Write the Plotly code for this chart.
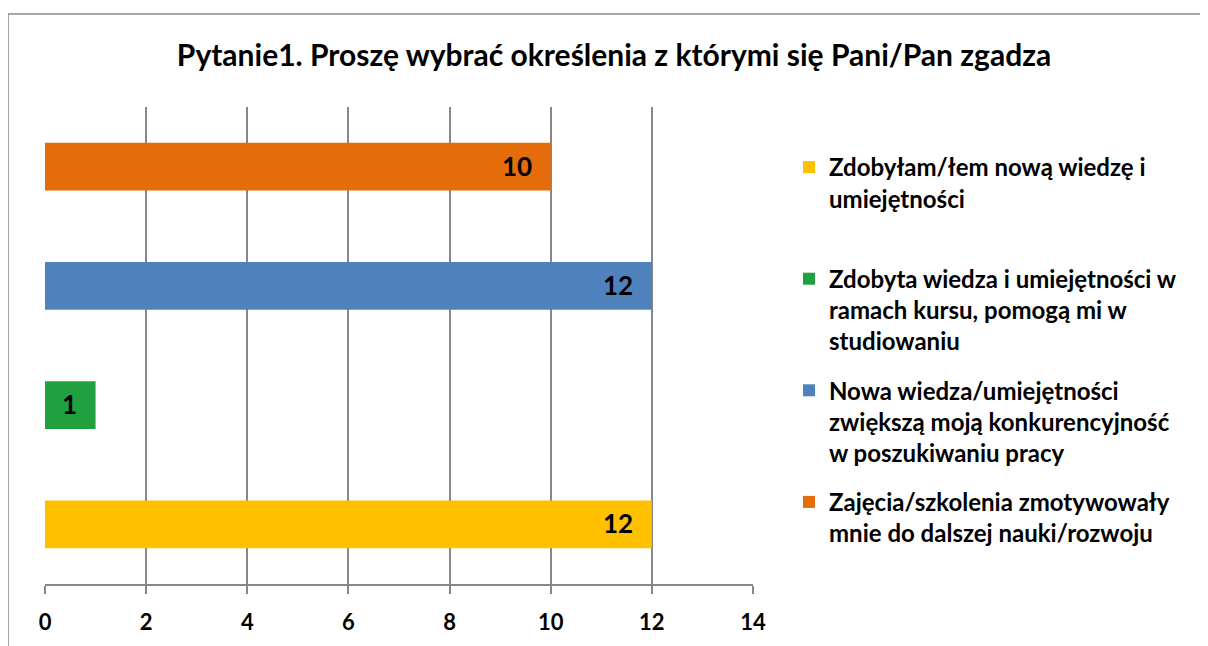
import plotly.graph_objects as go

title_text = "Pytanie1. Proszę wybrać określenia z którymi się Pani/Pan zgadza"
series_names = [
    "Zdobyłam/łem nową wiedzę i<br>umiejętności<br> ",
    "Zdobyta wiedza i umiejętności w<br>ramach kursu, pomogą mi w<br>studiowaniu",
    "Nowa wiedza/umiejętności<br>zwiększą moją konkurencyjność<br>w poszukiwaniu pracy",
    "Zajęcia/szkolenia zmotywowały<br>mnie do dalszej nauki/rozwoju",
]
values = [12, 1, 12, 10]
positions = [0, 1, 2, 3]
colors = ["#FFC000", "#21A03F", "#4F81BD", "#E46C0A"]
x_ticks = [0, 2, 4, 6, 8, 10, 12, 14]

FONT = "Lato"
OFF = 8  # page body margin offset
fig = go.Figure()
for i, (name, v, p, c) in enumerate(zip(series_names, values, positions, colors)):
    fig.add_trace(go.Bar(
        x=[v], y=[p], orientation="h", name=name, marker_color=c,
        marker_line_width=0, width=0.4, legendgroup=f"g{i}",
    ))
    fig.add_annotation(x=v, y=p, text=f"<b>{v}</b>", showarrow=False,
                       xanchor="right", xshift=-17, yshift=1,
                       font=dict(family=FONT, size=26, color="black", weight="bold"))

W, H = 1200, 638
ml, mt = 45 - OFF, 107 - OFF
pw, ph = 708, 477
mr = W - ml - pw
mb = H - mt - ph

def px_x(px):
    return (px - OFF - ml) / pw

def px_y(py):
    return (mt + ph - (py - OFF)) / ph

fig.add_shape(type="rect", xref="paper", yref="paper",
              x0=px_x(8), x1=px_x(1230), y0=px_y(690), y1=px_y(14),
              line=dict(color="#898989", width=1.5), fillcolor="rgba(0,0,0,0)")

fig.update_layout(
    width=W, height=H, barmode="overlay",
    margin=dict(l=ml, r=mr, t=mt, b=mb),
    paper_bgcolor="white", plot_bgcolor="white",
    title=dict(text=f"<b>{title_text}</b>", x=(614 - OFF) / W, xanchor="center",
               y=1 - (55 - OFF) / H, yanchor="middle",
               font=dict(family=FONT, size=30, color="black", weight="bold")),
    xaxis=dict(range=[0, 14], tickvals=x_ticks,
               ticktext=[f"<b>{t}</b>" for t in x_ticks],
               showgrid=True, gridcolor="#878787", gridwidth=2,
               showline=True, linecolor="#878787", linewidth=2,
               ticks="outside", ticklen=8, tickcolor="#878787", tickwidth=2,
               ticklabelstandoff=10,
               tickfont=dict(family=FONT, size=22, color="black", weight="bold"),
               zeroline=False, fixedrange=True),
    yaxis=dict(range=[-0.5, 3.5], showticklabels=False, showgrid=False,
               zeroline=False, fixedrange=True),
    legend=dict(x=px_x(789), y=px_y(145), xanchor="left", yanchor="top",
                traceorder="grouped", valign="top", tracegroupgap=15,
                font=dict(family=FONT, size=24, color="black", weight="bold"),
                itemclick=False, itemdoubleclick=False),
    showlegend=True,
)
fig.write_html("out.html")
